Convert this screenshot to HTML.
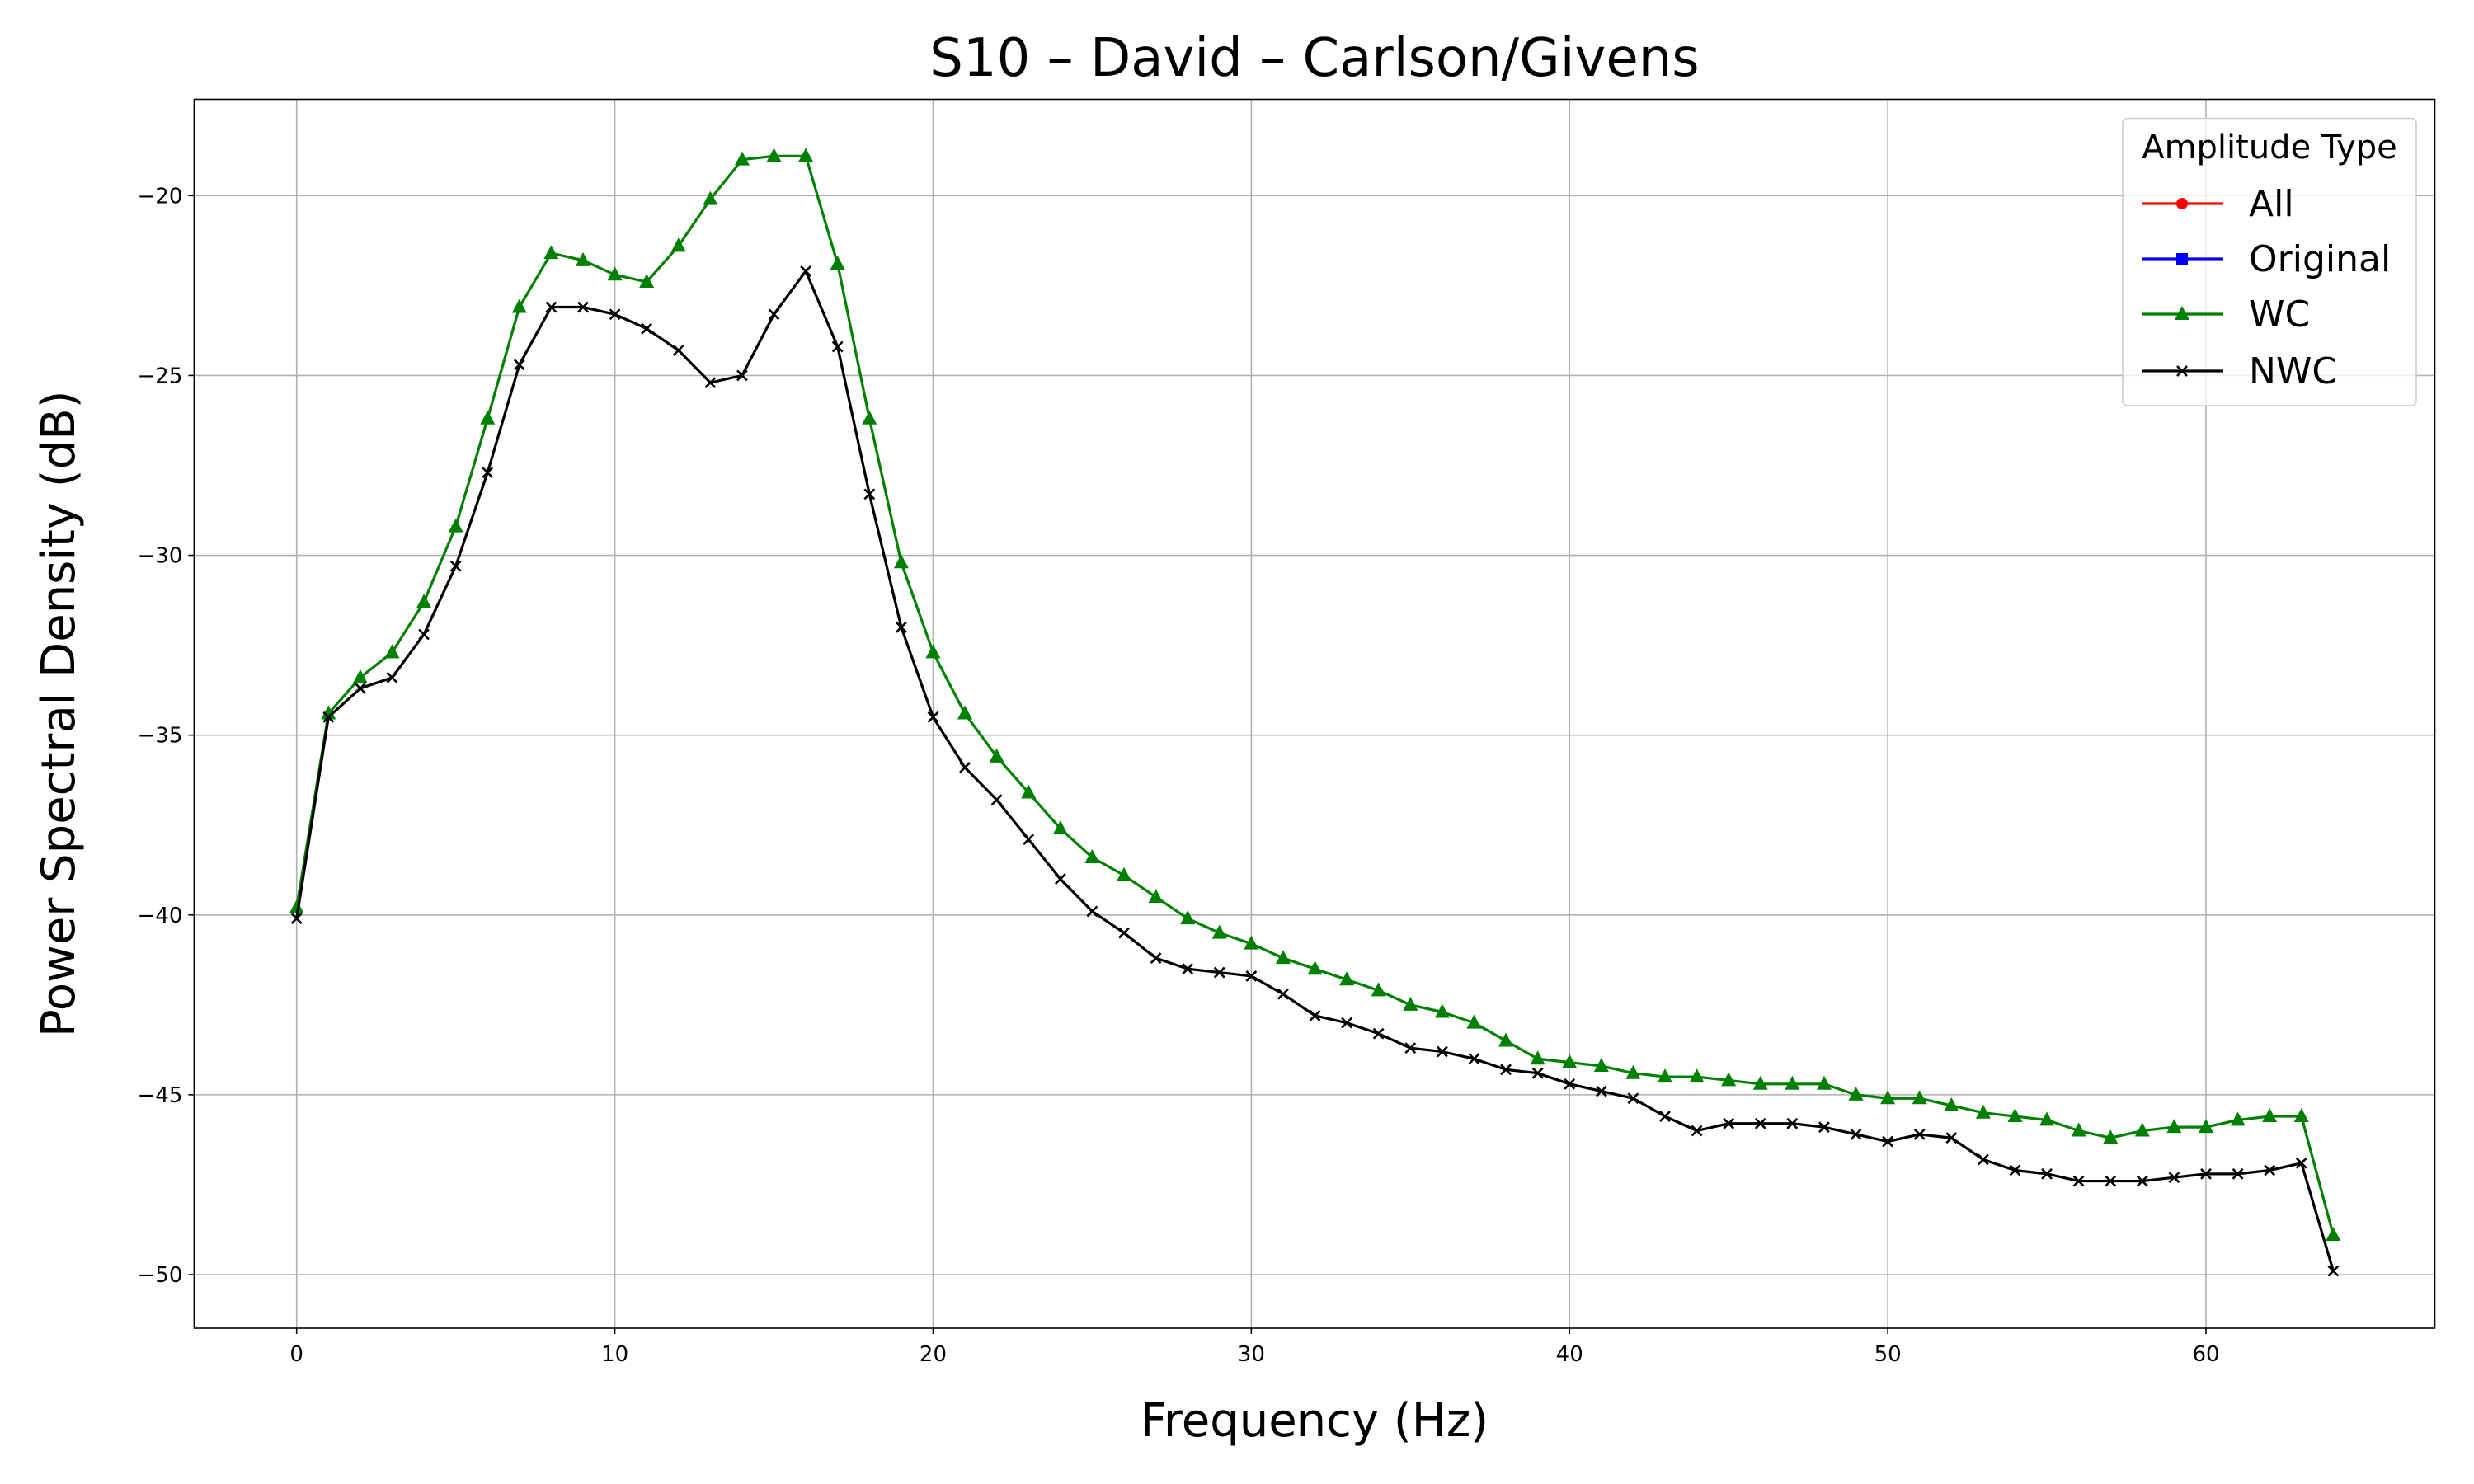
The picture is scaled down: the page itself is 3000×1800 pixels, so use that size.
<!DOCTYPE html>
<html><head><meta charset="utf-8"><style>body{margin:0;background:#fff}svg{display:block;font-family:"DejaVu Sans","Liberation Sans",sans-serif}</style></head>
<body>
<svg id="chart" width="3000" height="1800" viewBox="0 0 3000 1800" xmlns="http://www.w3.org/2000/svg"></svg>
<script>
const freqs = Array.from({length:65},(_, i)=>i);
const wcValues = [-39.8,-34.4,-33.4,-32.7,-31.3,-29.2,-26.2,-23.1,-21.6,-21.8,-22.2,-22.4,-21.4,-20.1,-19.0,-18.9,-18.9,-21.9,-26.2,-30.2,-32.7,-34.4,-35.6,-36.6,-37.6,-38.4,-38.9,-39.5,-40.1,-40.5,-40.8,-41.2,-41.5,-41.8,-42.1,-42.5,-42.7,-43.0,-43.5,-44.0,-44.1,-44.2,-44.4,-44.5,-44.5,-44.6,-44.7,-44.7,-44.7,-45.0,-45.1,-45.1,-45.3,-45.5,-45.6,-45.7,-46.0,-46.2,-46.0,-45.9,-45.9,-45.7,-45.6,-45.6,-48.9];
const nwcValues = [-40.1,-34.5,-33.7,-33.4,-32.2,-30.3,-27.7,-24.7,-23.1,-23.1,-23.3,-23.7,-24.3,-25.2,-25.0,-23.3,-22.1,-24.2,-28.3,-32.0,-34.5,-35.9,-36.8,-37.9,-39.0,-39.9,-40.5,-41.2,-41.5,-41.6,-41.7,-42.2,-42.8,-43.0,-43.3,-43.7,-43.8,-44.0,-44.3,-44.4,-44.7,-44.9,-45.1,-45.6,-46.0,-45.8,-45.8,-45.8,-45.9,-46.1,-46.3,-46.1,-46.2,-46.8,-47.1,-47.2,-47.4,-47.4,-47.4,-47.3,-47.2,-47.2,-47.1,-46.9,-49.9];
const xTicks = [0,10,20,30,40,50,60];
const yTicks = [-20,-25,-30,-35,-40,-45,-50];

const svg = document.getElementById('chart');
const NS='http://www.w3.org/2000/svg';
const L=235.4,R=2952.5,T=120.5,B=1611;
const sx=v=>359.7+v*(2675-359.7)/60;
const sy=v=>237.3+(v+20)*(1546-237.3)/(-30);
function el(tag,attrs,parent){const e=document.createElementNS(NS,tag);for(const k in attrs)e.setAttribute(k,attrs[k]);(parent||svg).appendChild(e);return e;}

const grid=el('g',{});


xTicks.forEach(t=>{el('line',{x1:sx(t),x2:sx(t),y1:T,y2:B,stroke:'#b0b0b0','stroke-width':1.6},grid);
 el('line',{x1:sx(t),x2:sx(t),y1:B,y2:B+7,stroke:'#000','stroke-width':1.6});
 const tx=el('text',{x:sx(t),y:B+40,'font-size':26,'text-anchor':'middle'});tx.textContent=t;
 
 });
yTicks.forEach(t=>{el('line',{x1:L,x2:R,y1:sy(t),y2:sy(t),stroke:'#b0b0b0','stroke-width':1.6},grid);
 el('line',{x1:L-7,x2:L,y1:sy(t),y2:sy(t),stroke:'#000','stroke-width':1.6});
 const tx=el('text',{x:L-14,y:sy(t)+9,'font-size':26,'text-anchor':'end'});tx.textContent='\u2212'+Math.abs(t);
 
 });

function series(vals,color,marker,name){
 const g=el('g',{});
 
 
 el('polyline',{points:vals.map((v,i)=>sx(freqs[i])+','+sy(v)).join(' '),fill:'none',stroke:color,'stroke-width':3.2},g);
 vals.forEach((v,i)=>{const x=sx(freqs[i]),y=sy(v);
  if(marker==='tri') el('polygon',{points:`${x},${y-10} ${x-9},${y+7} ${x+9},${y+7}`,fill:color},g);
  else el('path',{d:`M${x-6},${y-6}L${x+6},${y+6}M${x-6},${y+6}L${x+6},${y-6}`,stroke:color,'stroke-width':2.6},g);});
}
series(wcValues,'green','tri','wc-series');
series(nwcValues,'black','x','nwc-series');

const frame=el('rect',{x:L,y:T,width:R-L,height:B-T,fill:'none',stroke:'#000','stroke-width':1.6});



let t=el('text',{x:(L+R)/2,y:92,'font-size':64,'text-anchor':'middle'});t.textContent='S10 \u2013 David \u2013 Carlson/Givens';


t=el('text',{x:(L+R)/2,y:1742,'font-size':56,'text-anchor':'middle'});t.textContent='Frequency (Hz)';


t=el('text',{x:0,y:0,'font-size':56,'text-anchor':'middle',transform:`translate(90,${(T+B)/2}) rotate(-90)`});t.textContent='Power Spectral Density (dB)';



const lg=el('g',{});


el('rect',{x:2574,y:143.5,width:356,height:348.5,rx:6,fill:'#fff','fill-opacity':0.8,stroke:'#ccc','stroke-width':1.6},lg);
t=el('text',{x:2752,y:192,'font-size':40,'text-anchor':'middle'},lg);t.textContent='Amplitude Type';
const entries=[['All','red','o'],['Original','blue','s'],['WC','green','tri'],['NWC','black','x']];
const ey=[247,314,381,450];
entries.forEach((e,i)=>{const y=ey[i],g=el('g',{},lg);
 
 
 el('line',{x1:2597,x2:2696,y1:y,y2:y,stroke:e[1],'stroke-width':3.2},g);
 const x=2646;
 if(e[2]==='o')el('circle',{cx:x,cy:y,r:7,fill:e[1]},g);
 else if(e[2]==='s')el('rect',{x:x-7,y:y-7,width:14,height:14,fill:e[1]},g);
 else if(e[2]==='tri')el('polygon',{points:`${x},${y-10} ${x-9},${y+7} ${x+9},${y+7}`,fill:e[1]},g);
 else el('path',{d:`M${x-6},${y-6}L${x+6},${y+6}M${x-6},${y+6}L${x+6},${y-6}`,stroke:e[1],'stroke-width':2.6},g);
 const tx=el('text',{x:2727,y:y+15,'font-size':44},g);tx.textContent=e[0];});
</script>
</body></html>
